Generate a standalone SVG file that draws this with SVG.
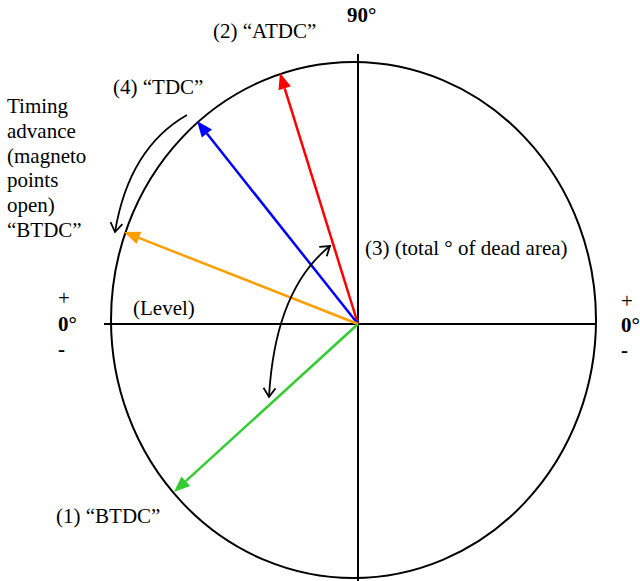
<svg xmlns="http://www.w3.org/2000/svg" width="640" height="581" viewBox="0 0 640 581">
<style>
text{font-family:"Liberation Serif","Times New Roman",serif;font-size:21px;fill:#000}
.b{font-weight:bold}
.ax{stroke:#000;stroke-width:2;fill:none}
.vec{stroke-width:2.5;fill:none}
.arc{stroke:#000;stroke-width:1.8;fill:none}
</style>
<defs>
<marker id="hr" markerUnits="userSpaceOnUse" markerWidth="20" markerHeight="16" refX="0" refY="0" viewBox="0 -8 18 16" orient="auto" overflow="visible"><path d="M0,-6.5 L16,0 L0,6.5 z" fill="#ff0000"/></marker>
<marker id="hb" markerUnits="userSpaceOnUse" markerWidth="20" markerHeight="16" refX="0" refY="0" viewBox="0 -8 18 16" orient="auto" overflow="visible"><path d="M0,-6.5 L16,0 L0,6.5 z" fill="#0000ff"/></marker>
<marker id="ho" markerUnits="userSpaceOnUse" markerWidth="20" markerHeight="16" refX="0" refY="0" viewBox="0 -8 18 16" orient="auto" overflow="visible"><path d="M0,-6.5 L16,0 L0,6.5 z" fill="#ff9e00"/></marker>
<marker id="hg" markerUnits="userSpaceOnUse" markerWidth="20" markerHeight="16" refX="0" refY="0" viewBox="0 -8 18 16" orient="auto" overflow="visible"><path d="M0,-6.5 L16,0 L0,6.5 z" fill="#33cc33"/></marker>
<marker id="open" markerUnits="userSpaceOnUse" markerWidth="20" markerHeight="20" refX="0" refY="0" viewBox="-12 -10 14 20" orient="auto-start-reverse" overflow="visible"><path d="M-9,-6 L0,0 L-9,6" fill="none" stroke="#000" stroke-width="1.8"/></marker>
</defs>
<g id="dial">
<ellipse cx="353.5" cy="320" rx="242.5" ry="258" class="ax"/>
<line x1="104" y1="324" x2="596" y2="324" class="ax"/>
<line x1="358" y1="54" x2="358" y2="581" class="ax"/>
</g>
<g id="connectors">
<path d="M358,324 L284.7,88.3" class="vec" stroke="#ff0000" marker-end="url(#hr)"/>
<path d="M358,324 L206.9,133.5" class="vec" stroke="#0000ff" marker-end="url(#hb)"/>
<path d="M358,324 L138.9,237.9" class="vec" stroke="#ff9e00" marker-end="url(#ho)"/>
<path d="M358,324 L185.8,481.2" class="vec" stroke="#33cc33" marker-end="url(#hg)"/>
<path d="M187,115 Q129,148 115,232" class="arc" marker-end="url(#open)"/>
<path d="M330,246 Q275,290 269,397" class="arc" marker-start="url(#open)" marker-end="url(#open)"/>
</g>
<g id="label-90"><text x="347" y="22" class="b">90°</text></g>
<g id="label-atdc"><text x="213" y="38">(2) “ATDC”</text></g>
<g id="label-tdc"><text x="113" y="94">(4) “TDC”</text></g>
<g id="label-timing">
<text x="7" y="113">Timing</text>
<text x="7" y="138">advance</text>
<text x="7" y="162.7">(magneto</text>
<text x="7" y="187">points</text>
<text x="7" y="212">open)</text>
<text x="7" y="237">“BTDC”</text>
</g>
<g id="label-dead"><text x="365" y="255">(3) (total ° of dead area)</text></g>
<g id="label-level"><text x="133" y="315">(Level)</text></g>
<g id="label-left0">
<text x="58" y="305">+</text>
<text x="58" y="331" class="b">0°</text>
<text x="58" y="356" class="b">-</text>
</g>
<g id="label-right0">
<text x="621" y="308">+</text>
<text x="621" y="332" class="b">0°</text>
<text x="621" y="357" class="b">-</text>
</g>
<g id="label-btdc"><text x="56" y="523">(1) “BTDC”</text></g>
</svg>
